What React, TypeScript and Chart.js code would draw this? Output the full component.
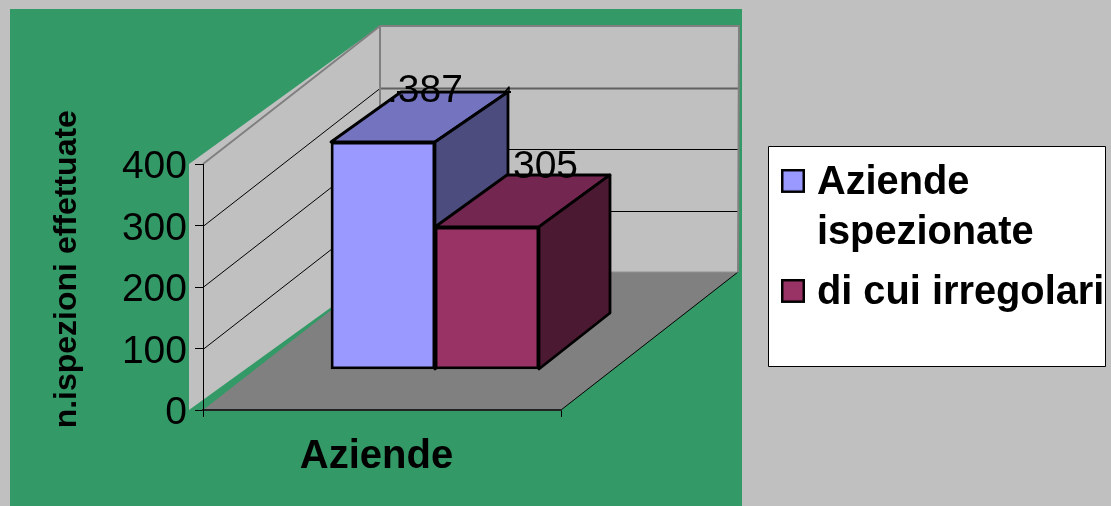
import React, { useEffect, useRef } from "react";
import { Chart, registerables } from "chart.js";

Chart.register(...registerables);

// ---- data ----
const categoryTitle = "Aziende";
const valueTitle = "n.ispezioni effettuate";
const seriesNames = [["Aziende", "ispezionate"], "di cui irregolari"];
const aziendeIspezionate = [387];
const diCuiIrregolari = [305];
const dataLabels = [".387", "305"];
const valueTicks = [0, 100, 200, 300, 400];

// ---- style ----
const FONT = "'Liberation Sans', Arial, sans-serif";
const GREEN = "#339966";
const GREY = "#C0C0C0";
const FLOOR = "#808080";
const BLUE = ["#9999FF", "#7373BF", "#4C4C7F"];
const PLUM = ["#993366", "#732650", "#4C1933"];
const WALL_DX = 177;
const WALL_DY = -138;
const EDGE = 2.8;
const FACES = [
  { colors: BLUE, dxL: 70, dxR: 73, dyT: -50, dyB: -56, lx: 42, ly: -40 },
  { colors: PLUM, dxL: 72, dxR: 71, dyT: -52, dyB: -56, lx: 58.5, ly: -48.5 },
];

function poly(ctx: CanvasRenderingContext2D, pts: number[][], fill?: string, stroke?: string, lw = 1) {
  ctx.beginPath();
  pts.forEach((p, i) => (i ? ctx.lineTo(p[0], p[1]) : ctx.moveTo(p[0], p[1])));
  if (fill) {
    ctx.closePath();
    ctx.fillStyle = fill;
    ctx.fill();
  }
  if (stroke) {
    ctx.strokeStyle = stroke;
    ctx.lineWidth = lw;
    ctx.lineJoin = "round";
    ctx.stroke();
  }
}

function marker(color: string) {
  // 4 transparent rows at the bottom lift the square slightly against the text line
  const c = document.createElement("canvas");
  c.width = 24;
  c.height = 28;
  const g = c.getContext("2d")!;
  g.fillStyle = "#000";
  g.fillRect(0, 0, 24, 24);
  g.fillStyle = color;
  g.fillRect(2.5, 2.5, 19, 19);
  return c;
}

const scene = {
  id: "scene",
  beforeDraw(chart: any) {
    const { ctx, scales } = chart;
    const y = scales.y;
    const x = scales.x;
    const L = x.left;
    const R = x.right;
    const y0 = y.getPixelForValue(0);
    const yTop = y.getPixelForValue(400);
    ctx.save();
    ctx.fillStyle = GREY;
    ctx.fillRect(0, 0, 1111, 506);
    ctx.fillStyle = GREEN;
    ctx.fillRect(10, 9, 732, 497);

    // side wall and back wall
    poly(ctx, [[L - 14, yTop], [L + WALL_DX, yTop + WALL_DY], [L + WALL_DX, y0 + WALL_DY], [L - 14, y0]], GREY);
    poly(ctx, [[L + WALL_DX, yTop + WALL_DY], [R + WALL_DX + 1, yTop + WALL_DY], [R + WALL_DX + 1, y0 + WALL_DY], [L + WALL_DX, y0 + WALL_DY]], GREY);
    // floor
    poly(ctx, [[L, y0], [R, y0], [R + WALL_DX, y0 + WALL_DY], [L + WALL_DX, y0 + WALL_DY]], FLOOR);
    poly(ctx, [[R, y0], [R + WALL_DX, y0 + WALL_DY]], undefined, "#000", 1);

    // grid lines through the value scale
    valueTicks.slice(1, -1).forEach((v) => {
      const py = Math.round(y.getPixelForValue(v)) + 0.5;
      const backY = py + WALL_DY;
      poly(ctx, [[L, py], [L + WALL_DX, backY]], undefined, "#000", 1);
      poly(ctx, [[L + WALL_DX, backY], [R + WALL_DX + 1, backY]], undefined, v === 300 ? "#606060" : "#000", v === 300 ? 2 : 1);
    });
    // wall outlines
    poly(ctx, [[L, yTop], [L + WALL_DX, yTop + WALL_DY], [R + WALL_DX + 1, yTop + WALL_DY], [R + WALL_DX, y0 + WALL_DY]], undefined, FLOOR, 2);
    poly(ctx, [[L + WALL_DX, yTop + WALL_DY], [L + WALL_DX, y0 + WALL_DY]], undefined, FLOOR, 2);
    poly(ctx, [[L + WALL_DX, y0 + WALL_DY], [R + WALL_DX, y0 + WALL_DY]], undefined, "#909090", 1);

    // legend frame
    ctx.fillStyle = "#FFFFFF";
    ctx.fillRect(768, 146, 337, 220);
    ctx.strokeStyle = "#000";
    ctx.lineWidth = 1;
    ctx.strokeRect(768.5, 146.5, 337, 220);
    ctx.restore();

    const lg = chart.legend;
    lg.left = 779;
    lg.top = 153;
    lg.right = 1111;
    lg.bottom = 506;
  },
  beforeDatasetsDraw(chart: any) {
    const { ctx } = chart;
    ctx.save();
    FACES.forEach((f, i) => {
      const el = chart.getDatasetMeta(i).data[0];
      const l = el.x - el.width / 2;
      const r = el.x + el.width / 2;
      const t = el.y;
      const b = el.base;
      poly(ctx, [[l, t], [r, t], [r + f.dxR, t + f.dyT], [l + f.dxL, t + f.dyT]], f.colors[1], "#000", EDGE);
      poly(ctx, [[r, t], [r + f.dxR, t + f.dyT], [r + f.dxR, b + f.dyB], [r, b]], f.colors[2], "#000", EDGE);
      if (i === 0) {
        // the back edge of the first box runs a little past its corner
        poly(ctx, [[l + f.dxL - 4, t + f.dyT], [r + f.dxR + 3, t + f.dyT]], undefined, "#000", 2);
        poly(ctx, [[r + f.dxR - 3, t + f.dyT], [r + f.dxR + 1, t + f.dyT - 5], [r + f.dxR + 1, t + f.dyT]], undefined, "#000", 1.5);
      }
    });
    ctx.restore();
  },
  afterDatasetsDraw(chart: any) {
    const { ctx } = chart;
    ctx.save();
    ctx.fillStyle = "#000";
    ctx.font = `39px ${FONT}`;
    ctx.textAlign = "center";
    ctx.textBaseline = "alphabetic";
    FACES.forEach((f, i) => {
      const el = chart.getDatasetMeta(i).data[0];
      ctx.fillText(dataLabels[i], el.x + f.lx, el.y + f.ly);
    });
    ctx.restore();
  },
};

export default function App() {
  const ref = useRef<HTMLCanvasElement | null>(null);
  useEffect(() => {
    document.body.style.margin = "0";
    document.body.style.background = GREY;
    const bar = {
      xAxisID: "xBars",
      borderColor: "#000",
      borderWidth: EDGE,
      borderSkipped: false,
      barThickness: 104,
      clip: false,
    };
    const chart = new Chart(ref.current!, {
      type: "bar",
      data: {
        datasets: [
          {
            ...bar,
            label: "Aziende ispezionate",
            data: aziendeIspezionate.map((v, i) => ({ x: i, y: v })),
            yAxisID: "yFirst",
            backgroundColor: BLUE[0],
          },
          {
            ...bar,
            label: "di cui irregolari",
            data: diCuiIrregolari.map((v, i) => ({ x: i, y: v })),
            yAxisID: "ySecond",
            backgroundColor: PLUM[0],
          },
        ],
      } as any,
      options: {
        animation: false,
        responsive: false,
        events: [],
        layout: { padding: { top: 164, left: 0, right: 250, bottom: 0 } },
        plugins: {
          tooltip: { enabled: false },
          legend: {
            position: "right",
            align: "start",
            maxWidth: 300,
            labels: {
              usePointStyle: true,
              pointStyleWidth: 8,
              boxHeight: 22,
              padding: 10,
              color: "#000",
              font: { family: FONT, size: 39.8, weight: "bold", lineHeight: 1.256 },
              generateLabels: () => [
                { text: seriesNames[0], pointStyle: marker(BLUE[0]), datasetIndex: 0, fontColor: "#000" },
                { text: seriesNames[1], pointStyle: marker(PLUM[0]), datasetIndex: 1, fontColor: "#000" },
              ],
            },
          },
        } as any,
        scales: {
          x: {
            type: "linear",
            position: "bottom",
            min: 0,
            max: 1,
            offset: false,
            afterFit: (s: any) => { s.height = 96; },
            ticks: { display: false, stepSize: 1 },
            grid: { offset: false, drawOnChartArea: false, drawTicks: true, tickLength: 7, color: "#000" },
            border: { color: "#222", width: 2 },
            title: {
              display: true,
              text: categoryTitle + " ",
              color: "#000",
              font: { family: FONT, size: 40, weight: "bold" },
              padding: { top: 0, bottom: 25 },
            },
          },
          y: {
            type: "linear",
            position: "left",
            min: 0,
            max: 400,
            afterFit: (s: any) => { s.width = 203; },
            ticks: { stepSize: 100, padding: 8, labelOffset: 3.5, color: "#000", font: { family: FONT, size: 39 } },
            grid: { drawOnChartArea: false, drawTicks: true, tickLength: 8, color: "#000" },
            border: { color: "#000", width: 1 },
            title: {
              display: true,
              text: "    " + valueTitle,
              color: "#000",
              font: { family: FONT, size: 32, weight: "bold" },
              padding: { top: 48, bottom: 0 },
            },
          },
          xBars: { type: "linear", display: false, offset: false, min: -0.648, max: 0.352 },
          yFirst: { type: "linear", display: false, min: -69.9, max: 349.5 },
          ySecond: { type: "linear", display: false, min: -88.06, max: 440.3 },
        },
      } as any,
      plugins: [scene],
    });
    return () => chart.destroy();
  }, []);
  return <canvas ref={ref} width={1111} height={506} style={{ display: "block" }} />;
}
